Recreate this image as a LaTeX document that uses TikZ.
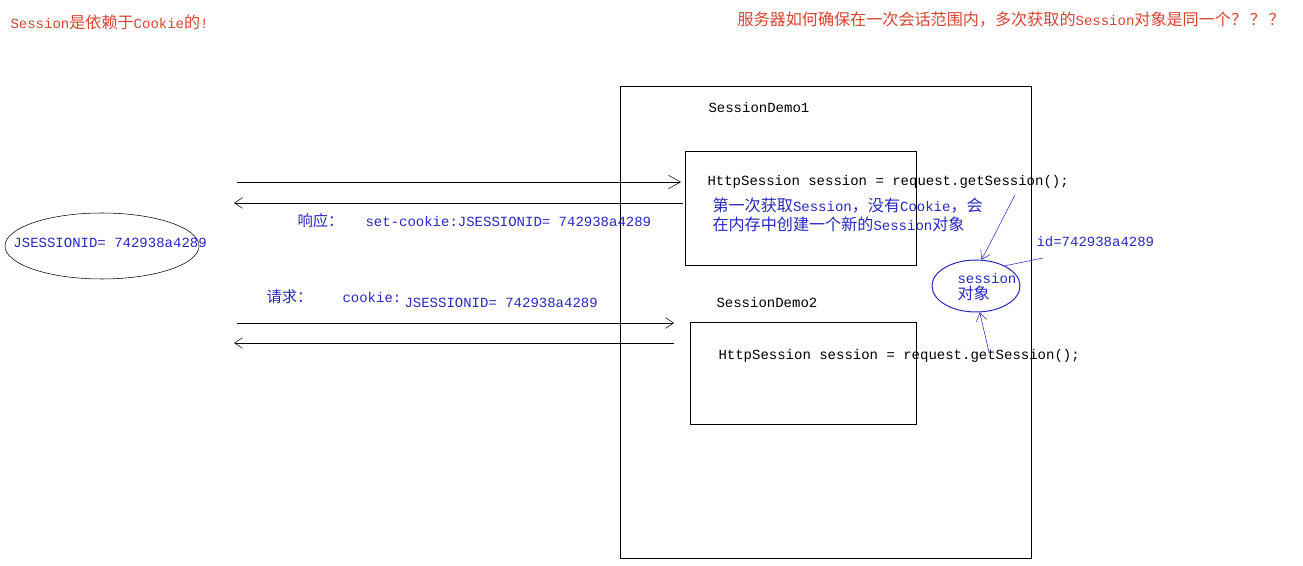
\documentclass[tikz,border=0pt]{standalone}
\usepackage{fontspec}
\setmainfont{Liberation Mono}
\newfontfamily\cjk{Noto Sans CJK SC}[Scale=1.15]
\usetikzlibrary{shapes.geometric,arrows.meta}
\definecolor{titlered}{RGB}{214,68,48}
\definecolor{noteblue}{RGB}{38,40,190}

\begin{document}
\begin{tikzpicture}[x=0.75pt, y=-0.75pt, line width=0.75pt,
    >={Straight Barb[length=6pt,width=8pt]},
    txt/.style={anchor=west, inner sep=0pt, font=\fontsize{10.5pt}{12pt}\selectfont},
    title/.style={txt, text=titlered},
    note/.style={txt, text=noteblue},
    box/.style={draw, inner sep=0pt}]
  \useasboundingbox (0,0) rectangle (1303,566);
  % titles
  \node[title] (depend) at (10,22) {Session{\cjk 是依赖于}Cookie{\cjk 的}!};
  \node[title] (question) at (737,20) {{\cjk 服务器如何确保在一次会话范围内，多次获取的}Session{\cjk 对象是同一个？\,？\,？}};
  % server side
  \node[box, minimum width=308.25pt, minimum height=353.25pt] (server) at (825.5,322.5) {};
  \node[txt] (demo1) at (708,108) {SessionDemo1};
  \node[box, minimum width=173.25pt, minimum height=85.5pt] (box1) at (800.5,209) {};
  \node[txt] (code1) at (707,182) {HttpSession session = request.getSession();};
  \node[note, align=left, font=\fontsize{10.5pt}{14pt}\selectfont] (first) at (712,215)
    {{\cjk 第一次获取}Session{\cjk ，没有}Cookie{\cjk ，会}\\{\cjk 在内存中创建一个新的}Session{\cjk 对象}};
  \node[txt] (demo2) at (716,302) {SessionDemo2};
  \node[box, minimum width=169.5pt, minimum height=76.5pt] (box2) at (803,374) {};
  \node[txt] (code2) at (718,356) {HttpSession session = request.getSession();};
  % session object
  \node[draw=noteblue, ellipse, minimum width=66pt, minimum height=39pt, inner sep=0pt] (sess) at (976,286) {};
  \node[note, align=left, font=\fontsize{10.5pt}{12.5pt}\selectfont] (sesstext) at (957,287) {session\\{\cjk 对象}};
  \node[note] (id) at (1036,242) {id=742938a4289};
  \coordinate (idfoot) at (1043,258);
  \coordinate (get1) at (1015,195);
  \coordinate (get2) at (989,352);
  \draw[noteblue, thin] (idfoot) -- (sess.35);
  \draw[noteblue, thin, ->] (get1) -- (sess.78);
  \draw[noteblue, thin, ->] (get2) -- (sess.-82);
  % browser side
  \node[draw, thin, ellipse, minimum width=145.5pt, minimum height=49.5pt] (browser) at (102,246) {};
  \node[note] (jsid) at (13,243) {JSESSIONID= 742938a4289};
  % request / response
  \coordinate (req1a) at (237,182);  \coordinate (req1b) at (681,182);
  \coordinate (res1a) at (683,203);  \coordinate (res1b) at (234,203);
  \coordinate (req2a) at (237,323);  \coordinate (req2b) at (674,323);
  \coordinate (res2a) at (674,343);  \coordinate (res2b) at (234,343);
  \draw[thin, -{Straight Barb[length=9pt,width=10pt]}] (req1a) -- (req1b);
  \draw[thin, ->] (res1a) -- (res1b);
  \draw[thin, ->] (req2a) -- (req2b);
  \draw[thin, ->] (res2a) -- (res2b);
  \node[note, font=\fontsize{10pt}{12pt}\selectfont\cjk] (resp) at (297,221) {响应：};
  \node[note] (setcookie) at (365,221) {set-cookie:JSESSIONID= 742938a4289};
  \node[note, font=\fontsize{10pt}{12pt}\selectfont\cjk] (req) at (266,297) {请求：};
  \node[note] (cookie) at (342,297) {cookie:};
  \node[note] (reqid) at (404,303) {JSESSIONID= 742938a4289};
\end{tikzpicture}
\end{document}
